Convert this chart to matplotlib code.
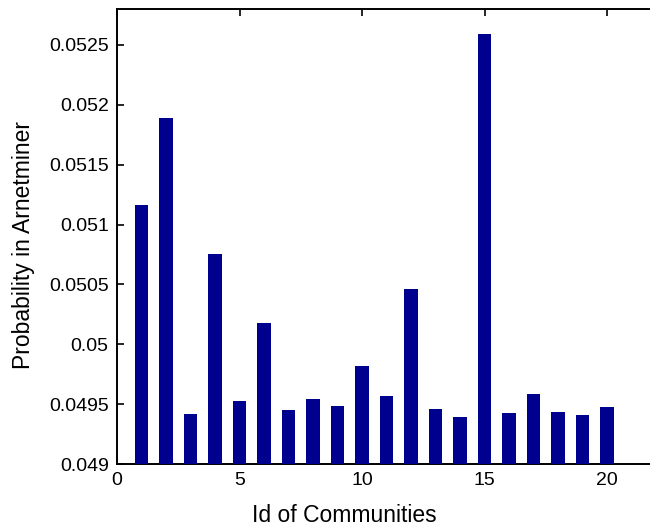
import matplotlib
matplotlib.use("Agg")
import matplotlib.pyplot as plt

# Probability of each community in the Arnetminer network
community_ids = list(range(1, 21))
probabilities = [
    0.051167, 0.051889, 0.049414, 0.050750, 0.049528,
    0.050181, 0.049450, 0.049542, 0.049483, 0.049819,
    0.049572, 0.050464, 0.049461, 0.049394, 0.052589,
    0.049428, 0.049583, 0.049436, 0.049406, 0.049472,
]
x_ticks = [0, 5, 10, 15, 20]
y_ticks = [0.049, 0.0495, 0.05, 0.0505, 0.051, 0.0515, 0.052, 0.0525]
y_tick_labels = ["0.049", "0.0495", "0.05", "0.0505", "0.051", "0.0515", "0.052", "0.0525"]

plt.rcParams["font.family"] = ["Liberation Sans", "DejaVu Sans"]

W, H = 650, 526
fig = plt.figure(figsize=(W / 100, H / 100), dpi=100)
left_px, right_px, top_px, bottom_px = 117, 656, 9, 464
ax = fig.add_axes([left_px / W, 1 - bottom_px / H,
                   (right_px - left_px) / W, (bottom_px - top_px) / H])

ax.bar(community_ids, [p - 0.049 for p in probabilities], bottom=0.049,
       width=0.55, color="#00008F", edgecolor="none", zorder=3)

ax.set_xlim(0, 22)
ax.set_ylim(0.049, 0.0528)
ax.set_xticks(x_ticks)
ax.set_xticklabels([str(t) for t in x_ticks])
ax.set_yticks(y_ticks)
ax.set_yticklabels(y_tick_labels)

for s in ax.spines.values():
    s.set_linewidth(1.4)
    s.set_color("black")
    s.set_zorder(2)
ax.spines["right"].set_visible(False)

ax.tick_params(direction="in", length=5, width=1.2, labelsize=14,
               top=True, right=False, pad=6)

ax.set_xlabel("Id of Communities", fontsize=16.5)
ax.set_ylabel("Probability in Arnetminer", fontsize=16.5)
ax.xaxis.set_label_coords((344 - left_px) / (right_px - left_px), -0.088)
ax.yaxis.set_label_coords(-0.152, (bottom_px - 245) / (bottom_px - top_px))

fig.savefig("out.png", dpi=100)
